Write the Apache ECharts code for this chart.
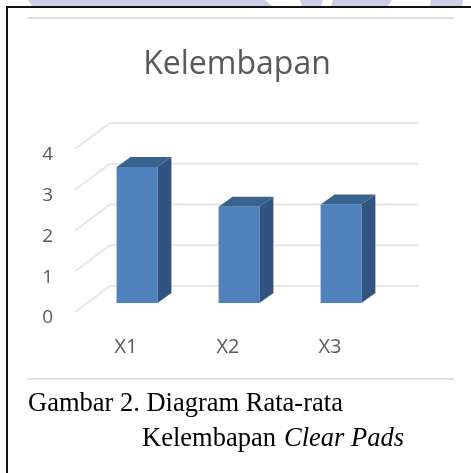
<!DOCTYPE html>
<html>
<head>
<meta charset="utf-8">
<style>html,body{margin:0;padding:0;background:#fff}#c{width:471px;height:473px}</style>
<script src="https://cdn.jsdelivr.net/npm/echarts@6/dist/echarts.min.js"></script>
</head>
<body>
<div id="c"></div>
<script>
var categories = ['X1', 'X2', 'X3'];
var kelembapan = [3.34, 2.36, 2.42];
var yTicks = [0, 1, 2, 3, 4];
var titleText = 'Kelembapan';
var captionLine1 = 'Gambar 2. Diagram Rata-rata';
var captionLine2a = 'Kelembapan ';
var captionLine2b = 'Clear Pads';

var chart = echarts.init(document.getElementById('c'), null, {renderer: 'canvas'});

var GRID_COLOR = '#e6e6e6';
var TEXT_COLOR = '#595959';
var wallDx = 35, wallDy = -26;   // depth of the 3D back wall
var barDx = 11, barDy = -9;      // bars stand inside the depth
var sideDx = 14, sideDy = -10;   // depth of each bar
var wallWidth = 306;

function renderWall(params, api) {
  var p = api.coord([0, api.value(0)]);
  var x0 = p[0] - api.size([1, 0])[0] / 2;
  var y0 = p[1];
  var style = {stroke: GRID_COLOR, lineWidth: 2, fill: null};
  return {
    type: 'group',
    silent: true,
    children: [
      {type: 'line', shape: {x1: x0, y1: y0, x2: x0 + wallDx, y2: y0 + wallDy}, style: style},
      {type: 'line', shape: {x1: x0 + wallDx, y1: y0 + wallDy, x2: x0 + wallDx + wallWidth + 2, y2: y0 + wallDy}, style: style}
    ]
  };
}

function renderBar(params, api) {
  var c = api.coord([api.value(0), api.value(1)]);
  var base = api.coord([api.value(0), 0]);
  var w = api.size([1, 0])[0] * 0.4;
  var l = c[0] - w / 2 + barDx, r = l + w;
  var t = c[1] + barDy, b = base[1] + barDy;
  return {
    type: 'group',
    children: [
      {type: 'polygon', shape: {points: [[r, t], [r + sideDx, t + sideDy], [r + sideDx, b + sideDy], [r, b]]}, style: {fill: '#31537f'}},
      {type: 'polygon', shape: {points: [[l, t], [l + sideDx, t + sideDy], [r + sideDx, t + sideDy], [r, t]]}, style: {fill: '#39638f'}},
      {type: 'rect', shape: {x: l, y: t, width: w, height: b - t}, style: {fill: '#4f81bd'}}
    ]
  };
}

function band(points) {
  return {type: 'polygon', shape: {points: points}, style: {fill: '#ccd0e6'}, z: 1};
}

chart.setOption({
  animation: false,
  backgroundColor: '#ffffff',
  title: {
    text: titleText,
    left: 232,
    top: 44,
    textAlign: 'center',
    textStyle: {fontFamily: 'Open Sans', fontSize: 32, fontWeight: 'normal', color: TEXT_COLOR}
  },
  grid: {left: 75, top: 149, width: wallWidth, height: 163},
  xAxis: {
    type: 'category',
    data: categories,
    axisLine: {show: false},
    axisTick: {show: false},
    axisLabel: {fontFamily: 'Open Sans', fontSize: 20, color: TEXT_COLOR, margin: 25}
  },
  yAxis: {
    type: 'value',
    min: 0,
    max: 4,
    interval: 1,
    splitLine: {show: false},
    axisLine: {show: false},
    axisTick: {show: false},
    axisLabel: {
      margin: 22,
      formatter: '{t|{value}}',
      rich: {t: {fontFamily: 'Open Sans', fontSize: 19, color: TEXT_COLOR, padding: [12, 0, 0, 0]}}
    }
  },
  series: [
    {
      type: 'custom',
      name: 'wall',
      coordinateSystem: 'cartesian2d',
      renderItem: renderWall,
      encode: {x: 1, y: 0},
      data: yTicks.map(function (v) { return [v, 0]; }),
      silent: true,
      z: 1
    },
    {
      type: 'custom',
      name: 'Kelembapan',
      coordinateSystem: 'cartesian2d',
      renderItem: renderBar,
      encode: {x: 0, y: 1},
      data: kelembapan.map(function (v, i) { return [i, v]; }),
      z: 2
    }
  ],
  graphic: [
    band([[28, 0], [265, 0], [272, 6], [32, 6]]),
    band([[300, 0], [323, 0], [321, 6], [302, 6]]),
    band([[333, 0], [392, 0], [388, 6], [331, 6]]),
    band([[431, 0], [463, 0], [462, 6], [430, 6]]),
    {type: 'rect', shape: {x: 6, y: 6, width: 465, height: 2}, style: {fill: '#111111'}, z: 2},
    {type: 'rect', shape: {x: 6, y: 6, width: 2, height: 467}, style: {fill: '#111111'}, z: 2},
    {type: 'rect', shape: {x: 27, y: 17, width: 427, height: 2}, style: {fill: '#dddddd'}, z: 2},
    {type: 'rect', shape: {x: 27, y: 378, width: 427, height: 2}, style: {fill: '#dddddd'}, z: 2},
    {type: 'text', x: 28, y: 391, z: 3, style: {text: captionLine1, fontFamily: 'Liberation Serif', fontSize: 26.5, fill: '#000000'}},
    {type: 'text', x: 142, y: 426, z: 3, style: {text: captionLine2a, fontFamily: 'Liberation Serif', fontSize: 26.5, fill: '#000000'}},
    {type: 'text', x: 284, y: 426, z: 3, style: {text: captionLine2b, fontFamily: 'Liberation Serif', fontSize: 26.5, fontStyle: 'italic', fill: '#000000'}}
  ]
});
</script>
</body>
</html>
